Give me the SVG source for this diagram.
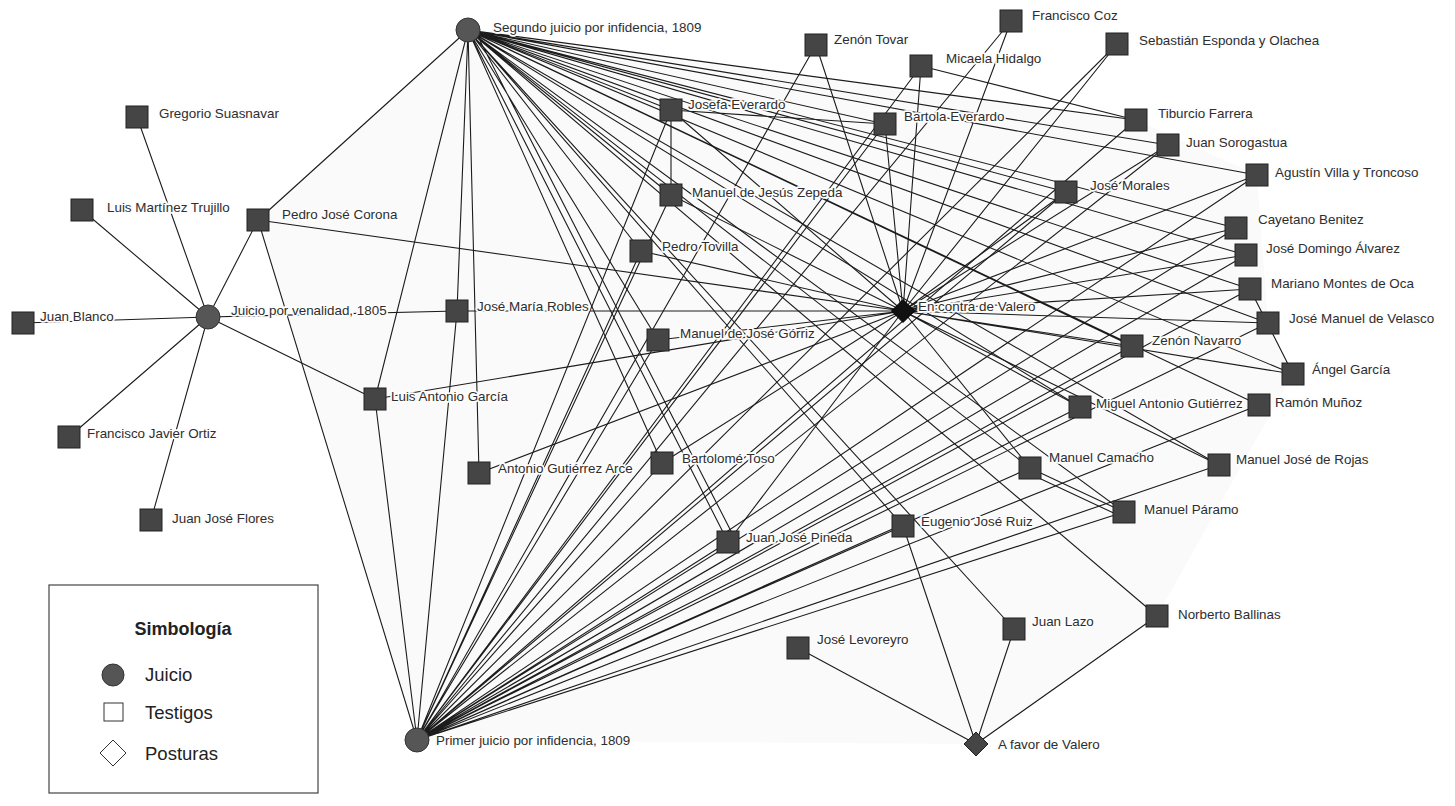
<svg xmlns="http://www.w3.org/2000/svg" width="1455" height="806" viewBox="0 0 1455 806">
<style>
.e{stroke:#1c1c1c;stroke-width:1.1;fill:none}
.sq{fill:#454545;stroke:#222;stroke-width:1}
.ci{fill:#565656;stroke:#333;stroke-width:1}
.lb{font-family:"Liberation Sans",Arial,sans-serif;font-size:13.4px;fill:#2e2e2e;dominant-baseline:central;stroke:#fdfdfd;stroke-width:3.5;stroke-linejoin:round;paint-order:stroke}
.lg{font-family:"Liberation Sans",Arial,sans-serif;font-size:18.5px;fill:#222;dominant-baseline:central}
</style>
<rect width="1455" height="806" fill="#fff"/>
<polygon points="468,30 1136,120 1257,175 1268,323 1293,374 1157,616 976,744 417,740 258,220" fill="#fafafa"/>
<g id="connectors">
<path class="e" d="M208,317L137,117M208,317L82,210M208,317L258,220M208,317L23,323M208,317L69,437M208,317L151,520M208,317L375,399M208,317L457,311"/>
<path class="e" d="M468,30L258,220M468,30L375,399M468,30L457,311M468,30L479,473M468,30L671,110M468,30L671,195M468,30L641,251M468,30L658,340M468,30L662,463M468,30L728,542M474,29L735,539M468,30L903,526M468,30L885,124M468,30L1136,120M468,30L1168,145M468,30L1257,175M468,30L1066,192M468,30L1236,228M468,30L1246,255M468,30L1250,289M468,30L1268,323M468,30L1132,346M468,30L1293,374M468,30L1080,407M468,30L1259,405M468,30L1030,468M468,30L1219,465M468,30L1124,512M468,30L1014,629M468,30L1157,616"/>
<path class="e" d="M417,740L258,220M417,740L375,399M417,740L457,311M417,740L671,110M417,740L671,195M417,740L641,251M417,740L658,340M417,740L662,463M417,740L728,542M417,740L903,526M417,740L816,45M417,740L885,124M417,740L921,66M417,740L1011,21M417,740L1117,44M417,740L1136,120M417,740L1168,145M417,740L1257,175M417,740L1066,192M417,740L1236,228M417,740L1246,255M417,740L1250,289M417,740L1268,323M417,740L1132,346M417,740L1080,407M417,740L1259,405M417,740L1030,468M417,740L1219,465M417,740L1124,512"/>
<path class="e" d="M903,311L258,220M903,311L375,399M903,311L457,311M903,311L479,473M903,311L671,110M903,311L671,195M903,311L641,251M903,311L658,340M903,311L662,463M903,311L728,542M903,311L816,45M903,311L885,124M903,311L921,66M903,311L1011,21M903,311L1117,44M903,311L1168,145M903,311L1257,175M903,311L1066,192M903,311L1236,228M903,311L1246,255M903,311L1250,289M903,311L1268,323M903,311L1132,346M903,311L1293,374M903,311L1080,407M903,311L1030,468M903,311L1219,465"/>
<path class="e" d="M976,744L798,648M976,744L903,526M976,744L1014,629M976,744L1157,616"/>
<path class="e" d="M671,110L885,124M671,110L671,195M921,66L1136,120M1250,289L1293,374M1030,468L1124,512M1026,472L1120,516"/>
</g>
<g id="n-segundo"><circle class="ci" cx="468" cy="30" r="12"/><text class="lb" x="493" y="27">Segundo juicio por infidencia, 1809</text></g>
<g id="n-venalidad"><circle class="ci" cx="208" cy="317" r="12"/><text class="lb" x="231" y="310">Juicio por venalidad, 1805</text></g>
<g id="n-primer"><circle class="ci" cx="417" cy="740" r="12"/><text class="lb" x="436" y="740">Primer juicio por infidencia, 1809</text></g>
<g id="n-contra"><path d="M903,299.5L914.5,311L903,322.5L891.5,311Z" fill="#111" stroke="#000"/><text class="lb" x="918" y="306">En contra de Valero</text></g>
<g id="n-favor"><path d="M976,732L988,744L976,756L964,744Z" fill="#454545" stroke="#222"/><text class="lb" x="998" y="744">A favor de Valero</text></g>
<g id="n-gs"><rect class="sq" x="126" y="106" width="22" height="22"/><text class="lb" x="159" y="113">Gregorio Suasnavar</text></g>
<g id="n-lmt"><rect class="sq" x="71" y="199" width="22" height="22"/><text class="lb" x="107" y="207">Luis Martínez Trujillo</text></g>
<g id="n-pjc"><rect class="sq" x="247" y="209" width="22" height="22"/><text class="lb" x="282" y="214">Pedro José Corona</text></g>
<g id="n-jb"><rect class="sq" x="12" y="312" width="22" height="22"/><text class="lb" x="40" y="316">Juan Blanco</text></g>
<g id="n-fjo"><rect class="sq" x="58" y="426" width="22" height="22"/><text class="lb" x="87" y="433">Francisco Javier Ortiz</text></g>
<g id="n-jjf"><rect class="sq" x="140" y="509" width="22" height="22"/><text class="lb" x="172" y="518">Juan José Flores</text></g>
<g id="n-lag"><rect class="sq" x="364" y="388" width="22" height="22"/><text class="lb" x="391" y="396">Luis Antonio García</text></g>
<g id="n-jmr"><rect class="sq" x="446" y="300" width="22" height="22"/><text class="lb" x="477" y="306">José María Robles</text></g>
<g id="n-aga"><rect class="sq" x="468" y="462" width="22" height="22"/><text class="lb" x="498" y="468">Antonio Gutiérrez Arce</text></g>
<g id="n-mjg"><rect class="sq" x="647" y="329" width="22" height="22"/><text class="lb" x="680" y="333">Manuel de José Górriz</text></g>
<g id="n-bt"><rect class="sq" x="651" y="452" width="22" height="22"/><text class="lb" x="682" y="458">Bartolomé Toso</text></g>
<g id="n-jjp"><rect class="sq" x="717" y="531" width="22" height="22"/><text class="lb" x="746" y="537">Juan José Pineda</text></g>
<g id="n-ejr"><rect class="sq" x="892" y="515" width="22" height="22"/><text class="lb" x="921" y="521">Eugenio José Ruiz</text></g>
<g id="n-je"><rect class="sq" x="660" y="99" width="22" height="22"/><text class="lb" x="688" y="104">Josefa Everardo</text></g>
<g id="n-mjz"><rect class="sq" x="660" y="184" width="22" height="22"/><text class="lb" x="692" y="192">Manuel de Jesús Zepeda</text></g>
<g id="n-pt"><rect class="sq" x="630" y="240" width="22" height="22"/><text class="lb" x="662" y="246">Pedro Tovilla</text></g>
<g id="n-zt"><rect class="sq" x="805" y="34" width="22" height="22"/><text class="lb" x="834" y="39">Zenón Tovar</text></g>
<g id="n-be"><rect class="sq" x="874" y="113" width="22" height="22"/><text class="lb" x="904" y="116">Bartola Everardo</text></g>
<g id="n-mh"><rect class="sq" x="910" y="55" width="22" height="22"/><text class="lb" x="946" y="58">Micaela Hidalgo</text></g>
<g id="n-fc"><rect class="sq" x="1000" y="10" width="22" height="22"/><text class="lb" x="1032" y="15">Francisco Coz</text></g>
<g id="n-seo"><rect class="sq" x="1106" y="33" width="22" height="22"/><text class="lb" x="1139" y="40">Sebastián Esponda y Olachea</text></g>
<g id="n-tf"><rect class="sq" x="1125" y="109" width="22" height="22"/><text class="lb" x="1158" y="113">Tiburcio Farrera</text></g>
<g id="n-js"><rect class="sq" x="1157" y="134" width="22" height="22"/><text class="lb" x="1186" y="142">Juan Sorogastua</text></g>
<g id="n-avt"><rect class="sq" x="1246" y="164" width="22" height="22"/><text class="lb" x="1275" y="172">Agustín Villa y Troncoso</text></g>
<g id="n-jmo"><rect class="sq" x="1055" y="181" width="22" height="22"/><text class="lb" x="1090" y="185">José Morales</text></g>
<g id="n-cb"><rect class="sq" x="1225" y="217" width="22" height="22"/><text class="lb" x="1258" y="219">Cayetano Benitez</text></g>
<g id="n-jda"><rect class="sq" x="1235" y="244" width="22" height="22"/><text class="lb" x="1266" y="248">José Domingo Álvarez</text></g>
<g id="n-mmo"><rect class="sq" x="1239" y="278" width="22" height="22"/><text class="lb" x="1271" y="283">Mariano Montes de Oca</text></g>
<g id="n-jmv"><rect class="sq" x="1257" y="312" width="22" height="22"/><text class="lb" x="1289" y="318">José Manuel de Velasco</text></g>
<g id="n-zn"><rect class="sq" x="1121" y="335" width="22" height="22"/><text class="lb" x="1152" y="340">Zenón Navarro</text></g>
<g id="n-ag"><rect class="sq" x="1282" y="363" width="22" height="22"/><text class="lb" x="1312" y="369">Ángel García</text></g>
<g id="n-mag"><rect class="sq" x="1069" y="396" width="22" height="22"/><text class="lb" x="1096" y="403">Miguel Antonio Gutiérrez</text></g>
<g id="n-rm"><rect class="sq" x="1248" y="394" width="22" height="22"/><text class="lb" x="1275" y="402">Ramón Muñoz</text></g>
<g id="n-mc"><rect class="sq" x="1019" y="457" width="22" height="22"/><text class="lb" x="1049" y="457">Manuel Camacho</text></g>
<g id="n-mjr"><rect class="sq" x="1208" y="454" width="22" height="22"/><text class="lb" x="1236" y="459">Manuel José de Rojas</text></g>
<g id="n-mp"><rect class="sq" x="1113" y="501" width="22" height="22"/><text class="lb" x="1144" y="509">Manuel Páramo</text></g>
<g id="n-jl"><rect class="sq" x="1003" y="618" width="22" height="22"/><text class="lb" x="1032" y="621">Juan Lazo</text></g>
<g id="n-nb"><rect class="sq" x="1146" y="605" width="22" height="22"/><text class="lb" x="1178" y="614">Norberto Ballinas</text></g>
<g id="n-jlv"><rect class="sq" x="787" y="637" width="22" height="22"/><text class="lb" x="817" y="639">José Levoreyro</text></g>
<g id="legend">
<rect x="49" y="585" width="269" height="208" fill="#fff" stroke="#444" stroke-width="1.2"/>
<text x="183" y="629" text-anchor="middle" font-family="Liberation Sans, Arial, sans-serif" font-size="18px" font-weight="bold" fill="#222" dominant-baseline="central">Simbología</text>
<circle cx="113" cy="675" r="11" fill="#555" stroke="#333"/>
<text class="lg" x="145" y="674">Juicio</text>
<rect x="104" y="703" width="19" height="18" fill="#fff" stroke="#333"/>
<text class="lg" x="145" y="712">Testigos</text>
<path d="M113,740L126,753L113,766L100,753Z" fill="#fff" stroke="#333"/>
<text class="lg" x="145" y="753">Posturas</text>
</g>
</svg>
